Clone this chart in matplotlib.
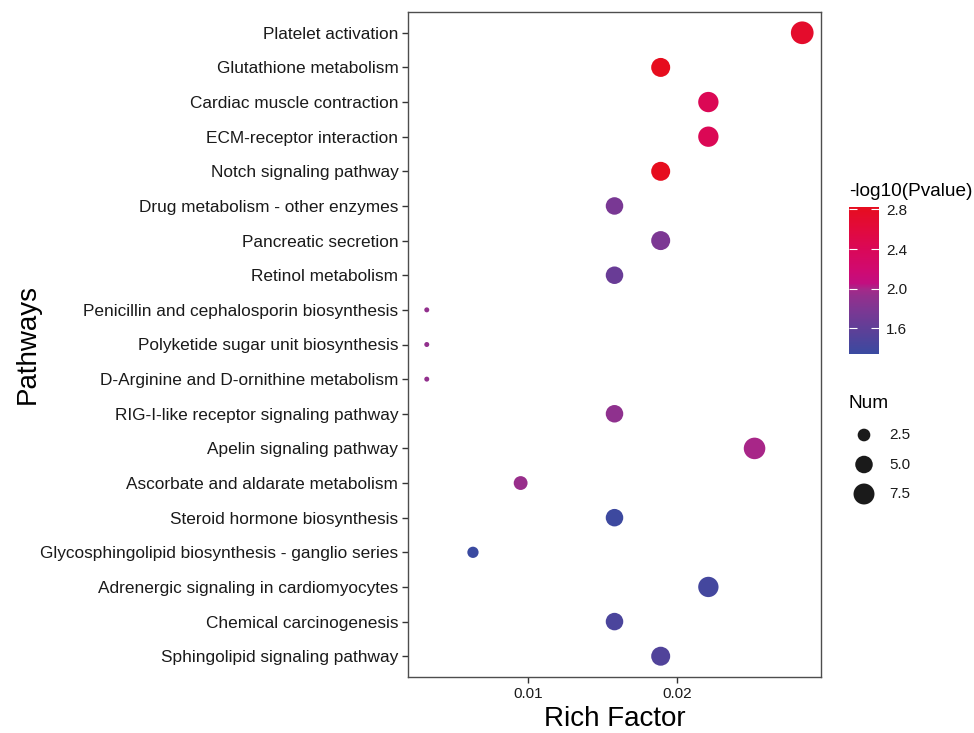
import numpy as np
import matplotlib
matplotlib.use("Agg")
import matplotlib.pyplot as plt
from matplotlib.colors import LinearSegmentedColormap, Normalize

plt.rcParams['font.family'] = ['Liberation Sans', 'DejaVu Sans']

pathways = [
    "Platelet activation",
    "Glutathione metabolism",
    "Cardiac muscle contraction",
    "ECM-receptor interaction",
    "Notch signaling pathway",
    "Drug metabolism - other enzymes",
    "Pancreatic secretion",
    "Retinol metabolism",
    "Penicillin and cephalosporin biosynthesis",
    "Polyketide sugar unit biosynthesis",
    "D-Arginine and D-ornithine metabolism",
    "RIG-I-like receptor signaling pathway",
    "Apelin signaling pathway",
    "Ascorbate and aldarate metabolism",
    "Steroid hormone biosynthesis",
    "Glycosphingolipid biosynthesis - ganglio series",
    "Adrenergic signaling in cardiomyocytes",
    "Chemical carcinogenesis",
    "Sphingolipid signaling pathway",
]
rich_factor = [0.0284, 0.0189, 0.0221, 0.0221, 0.0189, 0.0158, 0.0189, 0.0158,
               0.0032, 0.0032, 0.0032, 0.0158, 0.0252, 0.0095, 0.0158, 0.0063,
               0.0221, 0.0158, 0.0189]
num = [9, 6, 7, 7, 6, 5, 6, 5, 1, 1, 1, 5, 8, 3, 5, 2, 7, 5, 6]
neg_log_p = [2.72, 2.83, 2.42, 2.42, 2.83, 1.76, 1.78, 1.66, 1.92, 1.92, 1.92,
             1.90, 2.00, 1.95, 1.36, 1.34, 1.41, 1.46, 1.50]

size_breaks = [2.5, 5.0, 7.5]
color_breaks = [1.6, 2.0, 2.4, 2.8]

W, H = 974, 733
PX = 72 / 100  # points per pixel at dpi 100

cmap = LinearSegmentedColormap.from_list("pval", [
    (0.00, "#3a4aa0"),
    (0.17, "#5f3f97"),
    (0.30, "#7d3793"),
    (0.40, "#952f8c"),
    (0.44, "#a62889"),
    (0.48, "#c20e80"),
    (0.57, "#d00a70"),
    (0.71, "#da0858"),
    (0.85, "#e20a3c"),
    (1.00, "#e60d1e"),
])
norm = Normalize(vmin=min(neg_log_p), vmax=max(neg_log_p))

nmin, nmax = min(num), max(num)


def marker_area(n):
    # area-style scaling, diameter in pixels -> scatter size in pt^2
    d = 5 + 17.7 * np.sqrt((np.asarray(n, dtype=float) - nmin) / (nmax - nmin))
    return (d * PX) ** 2


fig = plt.figure(figsize=(W / 100, H / 100), dpi=100)
ax = fig.add_axes([408 / W, 1 - 677 / H, 413 / W, 665 / H])

ypos = np.arange(len(pathways))[::-1]
ax.scatter(rich_factor, ypos, s=marker_area(num), c=neg_log_p, cmap=cmap,
           norm=norm, edgecolors='none', zorder=3)

ax.set_yticks(ypos)
ax.set_yticklabels(pathways)
ax.set_ylim(-0.6, len(pathways) - 0.4)
ax.set_xticks([0.01, 0.02])
ax.set_xticklabels(["0.01", "0.02"])
ax.margins(x=0.05)

for sp in ax.spines.values():
    sp.set_color('#4d4d4d')
    sp.set_linewidth(1.0)
ax.tick_params(axis='y', labelsize=12.4, length=4, width=1, color='#333333',
               labelcolor='#1a1a1a', pad=3)
ax.tick_params(axis='x', labelsize=11, length=4, width=1, color='#333333',
               labelcolor='#1a1a1a', pad=3)

ax.set_xlabel("Rich Factor", fontsize=20, color='black')
ax.xaxis.set_label_coords(0.5, (677 - 719) / 665)
ax.xaxis.label.set_va('center')
ax.set_ylabel("Pathways", fontsize=20, color='black')
ax.yaxis.set_label_coords((28 - 408) / 413, 0.5)
ax.yaxis.label.set_va('center')

# colour bar legend
cax = fig.add_axes([849 / W, 1 - 354 / H, 30 / W, 147.5 / H])
cb = fig.colorbar(plt.cm.ScalarMappable(norm=norm, cmap=cmap), cax=cax)
cb.outline.set_visible(False)
cb.set_ticks(color_breaks)
cb.set_ticklabels([f"{v:.1f}" for v in color_breaks])
cax.tick_params(axis='y', direction='in', length=6, width=0.8, color='white',
                left=True, right=True, labelsize=11, labelcolor='#1a1a1a', pad=5)
fig.text(849 / W, 1 - 191 / H, "-log10(Pvalue)", fontsize=13.7, va='center',
         ha='left', color='black')

# size legend
fig.text(849 / W, 1 - 403 / H, "Num", fontsize=13.7, va='center', ha='left',
         color='black')
lax = fig.add_axes([845 / W, 1 - 510 / H, 40 / W, 90 / H])
lax.set_xlim(0, 40)
lax.set_ylim(0, 90)
lax.axis('off')
key_y = [90 - 15 - 29.5 * i for i in range(len(size_breaks))]
lax.scatter([19] * len(size_breaks), key_y, s=marker_area(size_breaks),
            color='#1a1a1a', edgecolors='none', clip_on=False)
for yk, v in zip(key_y, size_breaks):
    lax.text(44, yk, f"{v:.1f}", fontsize=11, va='center', ha='left',
             color='#1a1a1a')

fig.savefig("out.png", dpi=100)
